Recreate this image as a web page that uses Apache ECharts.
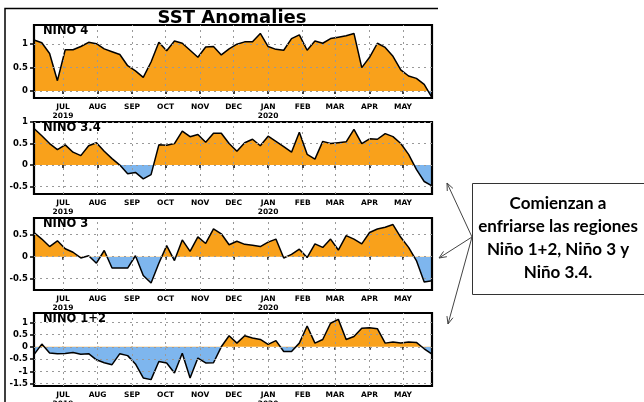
<!DOCTYPE html>
<html>
<head>
<meta charset="utf-8">
<script src="https://cdn.jsdelivr.net/npm/echarts@6/dist/echarts.min.js"></script>
<style>
html,body{margin:0;padding:0;background:#fff;}
#c{width:644px;height:402px;}
</style>
</head>
<body>
<div id="c"></div>
<script>
// ---------- DATA ----------
const weekStart = '2019-06-05';
const weekEnd = '2020-05-27';
const weekCount = 52;
const monthStarts = ['2019-07-01','2019-08-01','2019-09-01','2019-10-01','2019-11-01','2019-12-01','2020-01-01','2020-02-01','2020-03-01','2020-04-01','2020-05-01'];
const monthNames = ['JUL','AUG','SEP','OCT','NOV','DEC','JAN','FEB','MAR','APR','MAY'];
const yearNames = {JUL:'2019', JAN:'2020'};

const panelNames = ['NINO 4','NINO 3.4','NINO 3','NINO 1+2'];

const nino4 = [1.09,1.03,0.8,0.22,0.88,0.88,0.95,1.04,1.01,0.9,0.84,0.78,0.54,0.43,0.29,0.62,1.04,0.86,1.07,1.02,0.87,0.72,0.94,0.95,0.77,0.9,1.0,1.05,1.05,1.23,0.95,0.89,0.87,1.12,1.2,0.87,1.07,1.02,1.12,1.15,1.18,1.23,0.5,0.72,1.02,0.93,0.74,0.45,0.32,0.27,0.14,-0.14];
const nino34 = [0.85,0.68,0.5,0.36,0.47,0.3,0.22,0.45,0.52,0.32,0.15,0.0,-0.2,-0.17,-0.32,-0.22,0.47,0.46,0.5,0.79,0.66,0.71,0.53,0.74,0.74,0.5,0.32,0.52,0.6,0.45,0.67,0.55,0.43,0.3,0.76,0.25,0.14,0.55,0.5,0.52,0.54,0.83,0.5,0.61,0.6,0.73,0.66,0.5,0.25,-0.1,-0.38,-0.48];
const nino3 = [0.55,0.4,0.23,0.36,0.18,0.1,-0.03,0.02,-0.15,0.14,-0.26,-0.26,-0.26,0.02,-0.43,-0.6,-0.15,0.25,-0.09,0.38,0.12,0.45,0.3,0.63,0.52,0.27,0.35,0.28,0.26,0.23,0.33,0.4,-0.03,0.05,0.17,-0.02,0.29,0.21,0.4,0.15,0.48,0.4,0.29,0.55,0.63,0.67,0.73,0.44,0.21,-0.09,-0.58,-0.55];
const nino12 = [-0.32,0.11,-0.25,-0.28,-0.27,-0.23,-0.3,-0.28,-0.53,-0.65,-0.73,-0.28,-0.36,-0.7,-1.27,-1.34,-0.6,-0.66,-1.07,-0.26,-1.27,-0.46,-0.66,-0.65,0.0,0.45,0.15,0.45,0.36,0.3,0.1,0.25,-0.19,-0.19,0.15,0.85,0.15,0.3,0.96,1.12,0.3,0.42,0.76,0.78,0.74,0.15,0.2,0.16,0.2,0.18,-0.08,-0.3];
const panelValues = [nino4, nino34, nino3, nino12];

const yTicks = [[0,0.5,1],[-0.5,0,0.5,1],[-0.5,0,0.5],[-1.5,-1,-0.5,0,0.5,1]];
const yMin = [-0.15,-0.67,-0.76,-1.6];
const yMax = [1.41,1.0,0.88,1.38];

const noteText = 'Comienzan a\nenfriarse las regiones\nNiño 1+2, Niño 3 y\nNiño 3.4.';

// ---------- LAYOUT / STYLE ----------
const ORANGE = '#F9A11B';
const BLUE = '#7EB6EE';
const gridTops = [25, 122, 218, 313];
const gridHeights = [73, 72, 72, 73];
const GL = 34, GW = 398;

const dayOf = s => (Date.parse(s + 'T00:00:00Z') - Date.parse(weekStart + 'T00:00:00Z')) / 864e5;
const monthDays = monthStarts.map(dayOf);
const xMaxDay = dayOf(weekEnd);
const weekDays = Array.from({length: weekCount}, (_, i) => i * 7);

const chart = echarts.init(document.getElementById('c'), null, {renderer: 'canvas'});

const grids = [], xAxes = [], yAxes = [], series = [], visualMaps = [];
const LABEL_FONT = 'DejaVu Sans';

panelValues.forEach((vals, i) => {
  grids.push({left: GL, width: GW, top: gridTops[i], height: gridHeights[i], show: true,
    containLabel: false, outerBoundsMode: 'none',
    borderColor: '#000', borderWidth: 2.2, backgroundColor: 'rgba(0,0,0,0)', z: 5});
  xAxes.push({
    type: 'value', gridIndex: i, min: 0, max: xMaxDay,
    axisLine: {show: false}, splitLine: {show: false},
    axisTick: {show: true, customValues: monthDays, length: 3, lineStyle: {color: '#000', width: 1.5}},
    axisLabel: {
      customValues: monthDays, margin: 5, color: '#000', fontFamily: LABEL_FONT,
      fontWeight: 'bold', fontSize: 7.5, lineHeight: 9,
      formatter: v => {
        const k = monthDays.findIndex(d => Math.abs(d - v) < 0.5);
        const n = monthNames[k] || '';
        return yearNames[n] ? n + '\n' + yearNames[n] : n;
      }
    }
  });
  yAxes.push({
    type: 'value', gridIndex: i, min: yMin[i], max: yMax[i],
    axisLine: {show: false}, splitLine: {show: false},
    axisTick: {show: true, customValues: yTicks[i], length: 4, lineStyle: {color: '#000', width: 1.5}},
    axisLabel: {customValues: yTicks[i], margin: 6, color: '#000', fontFamily: LABEL_FONT,
      fontWeight: 'bold', fontSize: 8.5, formatter: v => String(v)}
  });
  // dotted grid lines (under the filled area)
  series.push({
    type: 'line', xAxisIndex: i, yAxisIndex: i, data: [], z: 1, silent: true,
    markLine: {
      silent: true, symbol: 'none', animation: false, label: {show: false},
      lineStyle: {type: [2, 4], color: '#999', width: 1},
      emphasis: {disabled: true},
      data: monthDays.map(d => ({xAxis: d})).concat(yTicks[i].map(v => ({yAxis: v})))
    }
  });
  visualMaps.push({
    type: 'piecewise', show: false, dimension: 1, seriesIndex: series.length,
    pieces: [{gte: -10, lt: 0, color: BLUE}, {gte: 0, lte: 10, color: ORANGE}]
  });
  series.push({
    type: 'line', xAxisIndex: i, yAxisIndex: i, z: 2, silent: true,
    data: weekDays.map((d, j) => [d, vals[j]]),
    symbol: 'none', showSymbol: false, animation: false,
    lineStyle: {color: '#000', width: 1.5},
    areaStyle: {opacity: 1, origin: 0}
  });
});

// graphics: outer frame, title, panel labels, note box & arrows
const graphics = [
  {type: 'polyline', shape: {points: [[5, 402], [5, 8.5], [438, 8.5]]}, style: {stroke: '#000', lineWidth: 1.5, fill: null}, z: 10},
  {type: 'text', x: 232, y: 18, style: {text: 'SST Anomalies', font: 'bold 18px "DejaVu Sans"', fill: '#000', align: 'center', verticalAlign: 'middle'}, z: 10}
];
panelNames.forEach((n, i) => {
  graphics.push({type: 'text', x: 43, y: gridTops[i] + 6, style: {text: n, font: 'bold 11.5px "DejaVu Sans"', fill: '#000', align: 'left', verticalAlign: 'middle'}, z: 10});
});
graphics.push({type: 'rect', shape: {x: 472.5, y: 183.5, width: 172, height: 111}, style: {stroke: '#333', lineWidth: 1, fill: '#fff'}, z: 10});
graphics.push({type: 'text', x: 558, y: 238, style: {text: noteText, font: 'bold 17px Lato', fill: '#000', align: 'center', verticalAlign: 'middle', lineHeight: 23.3}, z: 11});
const origin = [472, 237];
const tips = [[447, 183], [439, 258], [448, 324]];
tips.forEach(t => {
  graphics.push({type: 'line', shape: {x1: origin[0], y1: origin[1], x2: t[0], y2: t[1]}, style: {stroke: '#444', lineWidth: 1}, z: 10});
  const ang = Math.atan2(origin[1] - t[1], origin[0] - t[0]);
  const L = 8, a = 0.4;
  graphics.push({type: 'polyline', shape: {points: [
    [t[0] + L * Math.cos(ang + a), t[1] + L * Math.sin(ang + a)], t,
    [t[0] + L * Math.cos(ang - a), t[1] + L * Math.sin(ang - a)]]},
    style: {stroke: '#444', lineWidth: 1, fill: null}, z: 10});
});

chart.setOption({
  animation: false,
  backgroundColor: '#fff',
  grid: grids, xAxis: xAxes, yAxis: yAxes,
  visualMap: visualMaps,
  series: series,
  graphic: graphics
});
</script>
</body>
</html>
